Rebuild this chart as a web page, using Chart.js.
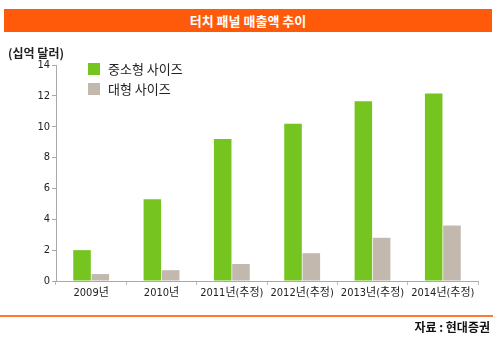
<!DOCTYPE html>
<html>
<head>
<meta charset="utf-8">
<script src="https://cdn.jsdelivr.net/npm/chart.js@4"></script>
<style>
  body { margin: 0; background: #fff; font-family: "Noto Sans CJK KR", sans-serif; }
  #wrap { position: relative; width: 500px; height: 340px; }
  #chart { position: absolute; left: 0; top: 0; }
  .title { position: absolute; left: 4px; top: 9px; width: 488px; height: 23px; background: #ff5a0a;
    color: #fff; font-weight: bold; font-size: 13px; text-align: center; line-height: 23px; }
  .unit { position: absolute; left: 8px; top: 44px; font-size: 12px; font-weight: bold; color: #222; }
  .legend { position: absolute; left: 88px; top: 60px; font-size: 13px; color: #222; }
  .legend div { height: 20px; line-height: 18px; }
  .legend span { display: inline-block; width: 12px; height: 12px; vertical-align: -1px; margin-right: 8px; }
  .rule { position: absolute; left: 0; top: 315px; width: 493px; height: 2px; background: #ff7a30; }
  .source { position: absolute; right: 10px; top: 318px; font-size: 12px; font-weight: bold; color: #111; }
</style>
</head>
<body>
<div id="wrap">
  <canvas id="chart" width="500" height="340"></canvas>
  <div class="title">터치 패널 매출액 추이</div>
  <div class="unit">(십억 달러)</div>
  <div class="legend">
    <div><span style="background:#76c41f"></span>중소형 사이즈</div>
    <div><span style="background:#c2b8ad"></span>대형 사이즈</div>
  </div>
  <div class="rule"></div>
  <div class="source">자료 : 현대증권</div>
</div>
<script>
const years = ["2009년", "2010년", "2011년(추정)", "2012년(추정)", "2013년(추정)", "2014년(추정)"];
const smallMid = [2.0, 5.3, 9.2, 10.2, 11.65, 12.15];
const large = [0.45, 0.7, 1.1, 1.8, 2.8, 3.6];
const yTicks = [0, 2, 4, 6, 8, 10, 12, 14];

const tickFont = { family: "'DejaVu Sans Condensed', 'Noto Sans CJK KR'", size: 11 };

new Chart(document.getElementById("chart"), {
  type: "bar",
  data: {
    labels: years,
    datasets: [
      { label: "중소형 사이즈", data: smallMid, backgroundColor: "#76c41f", barPercentage: 0.96, categoryPercentage: 0.52 },
      { label: "대형 사이즈", data: large, backgroundColor: "#c2b8ad", barPercentage: 0.96, categoryPercentage: 0.52 }
    ]
  },
  options: {
    responsive: false,
    animation: false,
    layout: { padding: { left: 0, right: 22, top: 65, bottom: 39 } },
    plugins: { legend: { display: false }, tooltip: { enabled: false } },
    scales: {
      x: {
        grid: { drawOnChartArea: false, tickLength: 4, color: "#bbb" },
        border: { color: "#aaa" },
        ticks: { font: tickFont, color: "#222", padding: 2, maxRotation: 0 },
        afterFit: (s) => { s.height = 20; }
      },
      y: {
        min: 0, max: 14,
        afterBuildTicks: (s) => { s.ticks = yTicks.map((v) => ({ value: v })); },
        grid: { drawOnChartArea: false, tickLength: 4, color: "#aaa" },
        border: { color: "#aaa" },
        ticks: { font: tickFont, color: "#222", padding: 2 },
        afterFit: (s) => { s.width = 56; }
      }
    }
  }
});
</script>
</body>
</html>
